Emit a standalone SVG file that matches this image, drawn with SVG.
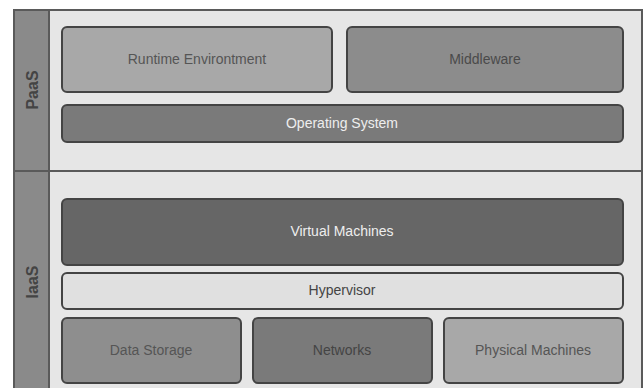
<svg xmlns="http://www.w3.org/2000/svg" width="643" height="388" viewBox="0 0 643 388">
<style>
.box{stroke:#444;stroke-width:2}
.t{font-family:"Liberation Sans",Arial,sans-serif;font-size:14px;text-anchor:middle;dominant-baseline:central}
.side{font-family:"Liberation Sans",Arial,sans-serif;font-size:16px;font-weight:bold;text-anchor:middle;dominant-baseline:central;fill:#444}
</style>
<rect width="643" height="388" fill="#ffffff"/>
<g id="frame">
<rect x="14" y="10" width="628" height="384" fill="#e6e6e6" stroke="#5a5a5a" stroke-width="2"/>
<rect x="14" y="10" width="35" height="384" fill="#8a8a8a" stroke="#5a5a5a" stroke-width="2"/>
<line x1="14" y1="171" x2="642" y2="171" stroke="#5a5a5a" stroke-width="2"/>
</g>
<g id="paas-label"><text class="side" transform="translate(32,90) rotate(-90)">PaaS</text></g>
<g id="iaas-label"><text class="side" transform="translate(32,282) rotate(-90)">IaaS</text></g>
<g id="runtime"><rect class="box" x="62" y="27" width="270" height="65" rx="5" fill="#a8a8a8"/><text class="t" x="197" y="59" fill="#555">Runtime Environtment</text></g>
<g id="middleware"><rect class="box" x="347" y="27" width="276" height="65" rx="5" fill="#8c8c8c"/><text class="t" x="485" y="59" fill="#4a4a4a">Middleware</text></g>
<g id="os"><rect class="box" x="62" y="105" width="561" height="37" rx="5" fill="#7a7a7a"/><text class="t" x="342" y="123" fill="#eeeeee">Operating System</text></g>
<g id="vm"><rect class="box" x="62" y="199" width="561" height="66" rx="5" fill="#666666"/><text class="t" x="342" y="231" fill="#eeeeee">Virtual Machines</text></g>
<g id="hypervisor"><rect class="box" x="62" y="273" width="561" height="36" rx="5" fill="#e0e0e0"/><text class="t" x="342" y="290" fill="#444">Hypervisor</text></g>
<g id="storage"><rect class="box" x="62" y="318" width="179" height="65" rx="5" fill="#8e8e8e"/><text class="t" x="151" y="350" fill="#555">Data Storage</text></g>
<g id="networks"><rect class="box" x="253" y="318" width="179" height="65" rx="5" fill="#7a7a7a"/><text class="t" x="342" y="350" fill="#444">Networks</text></g>
<g id="physical"><rect class="box" x="444" y="318" width="179" height="65" rx="5" fill="#a8a8a8"/><text class="t" x="533" y="350" fill="#555">Physical Machines</text></g>
<g id="connectors"></g>
</svg>
